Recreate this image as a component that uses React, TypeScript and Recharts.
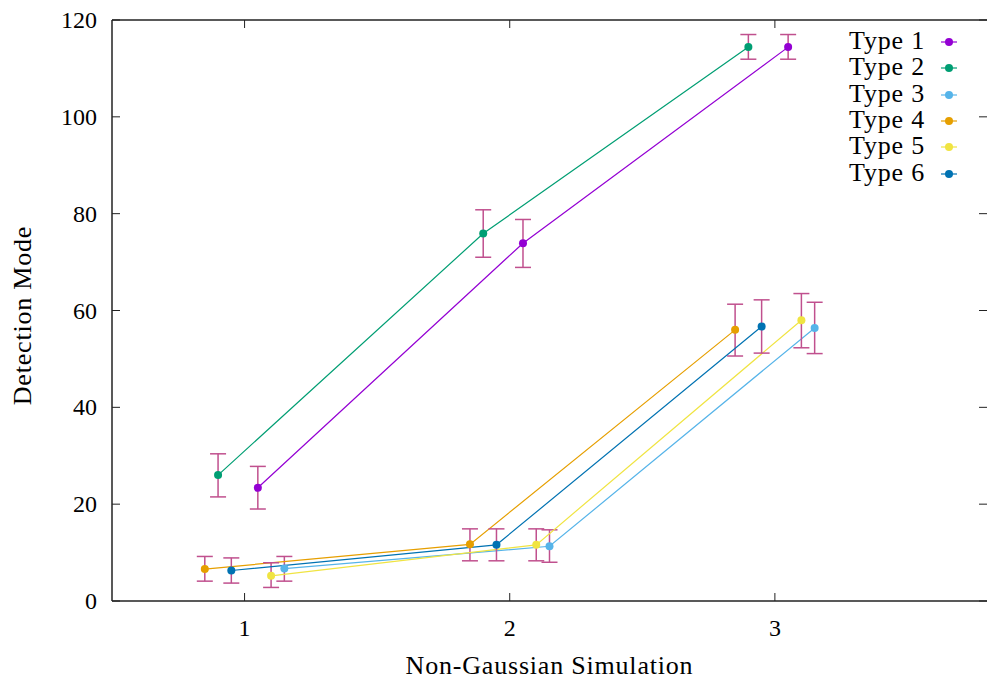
import { ComposedChart, Line, XAxis, YAxis, ErrorBar, ReferenceLine, Legend } from 'recharts';

// values
const seriesNames = ['Type 1', 'Type 2', 'Type 3', 'Type 4', 'Type 5', 'Type 6'];
const seriesColors = ['#9400d3', '#009e73', '#56b4e9', '#e69f00', '#f0e442', '#0072b2'];

const type1X = [1.05, 2.05, 3.05];
const type1Y = [23.4, 73.9, 114.4];
const type1Lo = [19.0, 68.9, 111.9];
const type1Hi = [27.8, 78.8, 117.0];

const type2X = [0.9, 1.9, 2.9];
const type2Y = [26.0, 75.9, 114.4];
const type2Lo = [21.5, 71.0, 111.9];
const type2Hi = [30.4, 80.8, 117.0];

const type3X = [1.15, 2.15, 3.15];
const type3Y = [6.7, 11.3, 56.4];
const type3Lo = [4.1, 8.0, 51.1];
const type3Hi = [9.2, 14.7, 61.7];

const type4X = [0.85, 1.85, 2.85];
const type4Y = [6.6, 11.7, 56.0];
const type4Lo = [4.1, 8.3, 50.6];
const type4Hi = [9.2, 14.9, 61.3];

const type5X = [1.1, 2.1, 3.1];
const type5Y = [5.2, 11.6, 58.0];
const type5Lo = [2.8, 8.3, 52.3];
const type5Hi = [7.9, 14.9, 63.5];

const type6X = [0.95, 1.95, 2.95];
const type6Y = [6.3, 11.6, 56.7];
const type6Lo = [3.7, 8.3, 51.2];
const type6Hi = [8.9, 14.9, 62.2];

const xTicks = [1, 2, 3];
const yTicks = [0, 20, 40, 60, 80, 100, 120];

const FONT = '"Liberation Serif", "DejaVu Serif", serif';
const TICK_FONT_SIZE = 24;
const TEXT_FONT_SIZE = 26;
const TEXT_SPACING = 0.8;
const ERR_COLOR = '#c0508e';
const AXIS_COLOR = '#222';
const PLOT_W = 875;
const PLOT_H = 581;
const TICK = 8;

function buildSeries(xs: number[], ys: number[], lo: number[], hi: number[]) {
  return xs.map((x, i) => ({ x, y: ys[i], err: [ys[i] - lo[i], hi[i] - ys[i]] }));
}

const series = [
  buildSeries(type1X, type1Y, type1Lo, type1Hi),
  buildSeries(type2X, type2Y, type2Lo, type2Hi),
  buildSeries(type3X, type3Y, type3Lo, type3Hi),
  buildSeries(type4X, type4Y, type4Lo, type4Hi),
  buildSeries(type5X, type5Y, type5Lo, type5Hi),
  buildSeries(type6X, type6Y, type6Lo, type6Hi),
];

function XTick({ x, y, payload }: any) {
  return (
    <g>
      <line x1={x} y1={y} x2={x} y2={y - TICK} stroke={AXIS_COLOR} strokeWidth={1} />
      <line x1={x} y1={y - PLOT_H} x2={x} y2={y - PLOT_H + TICK} stroke={AXIS_COLOR} strokeWidth={1} />
      <text x={x} y={y + 27} textAnchor="middle" dominantBaseline="central" fontFamily={FONT} fontSize={TICK_FONT_SIZE} fill="#000">
        {payload.value}
      </text>
    </g>
  );
}

function YTick({ x, y, payload }: any) {
  return (
    <g>
      <line x1={x} y1={y} x2={x + TICK} y2={y} stroke={AXIS_COLOR} strokeWidth={1} />
      <line x1={x + PLOT_W - TICK} y1={y} x2={x + PLOT_W} y2={y} stroke={AXIS_COLOR} strokeWidth={1} />
      <text x={x - 15} y={y} textAnchor="end" dominantBaseline="central" fontFamily={FONT} fontSize={TICK_FONT_SIZE} fill="#000">
        {payload.value}
      </text>
    </g>
  );
}

function renderYLabel(props: any) {
  const vb = props.viewBox ?? { x: 0, y: 20, width: 112, height: PLOT_H };
  const cx = vb.x + 22;
  const cy = vb.y + vb.height / 2 + 5;
  return (
    <text x={cx} y={cy} transform={`rotate(-90, ${cx}, ${cy})`} textAnchor="middle" dominantBaseline="central" fontFamily={FONT} fontSize={TEXT_FONT_SIZE} letterSpacing={TEXT_SPACING} fill="#000">
      Detection Mode
    </text>
  );
}

function renderXLabel(props: any) {
  const vb = props.viewBox ?? { x: 112, y: 601, width: PLOT_W, height: 81 };
  return (
    <text x={vb.x + vb.width / 2} y={vb.y + 64} textAnchor="middle" dominantBaseline="central" fontFamily={FONT} fontSize={TEXT_FONT_SIZE} letterSpacing={TEXT_SPACING} fill="#000">
      Non-Gaussian Simulation
    </text>
  );
}

function renderLegend() {
  return (
    <div style={{ position: 'relative', width: 987, height: 200, fontFamily: FONT, fontSize: TEXT_FONT_SIZE, letterSpacing: TEXT_SPACING }}>
      {seriesNames.map((name, i) => {
        const cy = 42 + i * 26.3;
        return (
          <div key={name}>
            <div style={{ position: 'absolute', right: 987 - 925, top: cy - 16, lineHeight: '30px', whiteSpace: 'nowrap', color: '#000' }}>
              {name}
            </div>
            <svg style={{ position: 'absolute', left: 938, top: cy - 6 }} width={22} height={12}>
              <line x1={3} y1={6} x2={19} y2={6} stroke={seriesColors[i]} strokeWidth={1.2} />
              <circle cx={11} cy={6} r={4} fill={seriesColors[i]} />
            </svg>
          </div>
        );
      })}
    </div>
  );
}

export default function App() {
  return (
    <div style={{ position: 'absolute', left: 0, top: 0, background: '#fff' }}>
      <ComposedChart width={987} height={682} margin={{ top: 20, right: 0, bottom: 0, left: 0 }}>
        <XAxis
          type="number"
          dataKey="x"
          domain={[0.5, 3.8]}
          ticks={xTicks}
          interval={0}
          height={81}
          tickSize={0}
          tickMargin={0}
          tickLine={false}
          axisLine={{ stroke: AXIS_COLOR, strokeWidth: 1.5 }}
          tick={<XTick />}
          label={renderXLabel}
          allowDataOverflow
        />
        <YAxis
          type="number"
          domain={[0, 120]}
          ticks={yTicks}
          interval={0}
          width={112}
          tickSize={0}
          tickMargin={0}
          tickLine={false}
          axisLine={{ stroke: AXIS_COLOR, strokeWidth: 1.5 }}
          tick={<YTick />}
          label={renderYLabel}
          allowDataOverflow
        />
        <ReferenceLine y={120} stroke={AXIS_COLOR} strokeWidth={1.5} />
        <Legend
          layout="vertical"
          align="center"
          verticalAlign="middle"
          content={renderLegend}
          wrapperStyle={{ top: 0, left: 0, width: 987, height: 200 }}
        />
        {series.map((data, i) => (
          <Line
            key={seriesNames[i]}
            name={seriesNames[i]}
            data={data}
            dataKey="y"
            type="linear"
            stroke={seriesColors[i]}
            strokeWidth={1.2}
            dot={{ r: 4, fill: seriesColors[i], stroke: seriesColors[i], strokeWidth: 0 }}
            activeDot={false}
            isAnimationActive={false}
          >
            <ErrorBar dataKey="err" direction="y" width={8} stroke={ERR_COLOR} strokeWidth={1.5} isAnimationActive={false} />
          </Line>
        ))}
      </ComposedChart>
    </div>
  );
}
